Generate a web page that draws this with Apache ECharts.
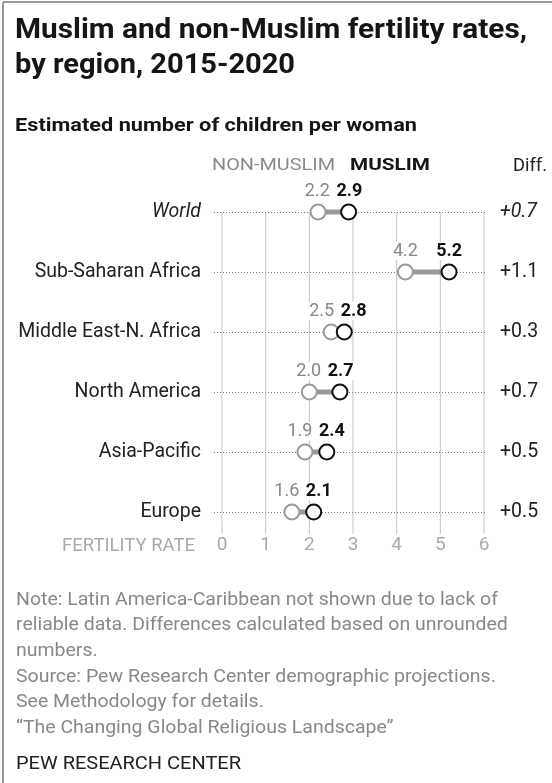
<!DOCTYPE html>
<html>
<head>
<meta charset="utf-8" />
<title>Muslim and non-Muslim fertility rates</title>
<script src="https://cdn.jsdelivr.net/npm/echarts@6/dist/echarts.min.js"></script>
<style>
	html, body { margin: 0; padding: 0; background: #fff; }
	#chart { width: 552px; height: 783px; }
</style>
</head>
<body>
<div id="chart"></div>
<script>
	var regions = ['World', 'Sub-Saharan Africa', 'Middle East-N. Africa', 'North America', 'Asia-Pacific', 'Europe'];
	var nonMuslim = [2.2, 4.2, 2.5, 2.0, 1.9, 1.6];
	var muslim = [2.9, 5.2, 2.8, 2.7, 2.4, 2.1];
	var diffs = ['+0.7', '+1.1', '+0.3', '+0.7', '+0.5', '+0.5'];
	var ticks = [0, 1, 2, 3, 4, 5, 6];
	var notes = [
		'Note: Latin America-Caribbean not shown due to lack of',
		'reliable data. Differences calculated based on unrounded',
		'numbers.',
		'Source: Pew Research Center demographic projections.',
		'See Methodology for details.',
		'\u201cThe Changing Global Religious Landscape\u201d'
	];

	var FONT = 'Roboto, "Liberation Sans", sans-serif';

	var ctx = document.createElement('canvas').getContext('2d');
	function measure(text, font) {
		ctx.font = font;
		return ctx.measureText(text).width;
	}
	// text squeezed/stretched sideways to the width it has in the original
	function fitText(text, x, y, font, width, fill, align) {
		var s = width / measure(text, font);
		return {
			type: 'text', x: x, y: y, scaleX: s,
			style: { text: text, x: 0, y: 0, font: font, fill: fill, align: align || 'left', verticalAlign: 'middle' }
		};
	}

	var chart = echarts.init(document.getElementById('chart'), null, { renderer: 'canvas' });

	var titleFont = 'bold 28px ' + FONT;
	var noteFont = '19px ' + FONT;
	var noteScale = 482 / measure(notes[0], noteFont);

	var graphics = [
		{ type: 'line', shape: { x1: 3, y1: 2, x2: 3, y2: 783 }, style: { stroke: '#777', lineWidth: 1.5 } },
		{ type: 'line', shape: { x1: 3, y1: 2, x2: 552, y2: 2 }, style: { stroke: '#777', lineWidth: 1.5 } },
		fitText('Muslim and non-Muslim fertility rates,', 15, 31, titleFont, 512, '#151515'),
		fitText('by region, 2015-2020', 15, 66, titleFont, 280, '#151515'),
		fitText('Estimated number of children per woman', 15, 126, 'bold 19px ' + FONT, 402, '#151515'),
		fitText('NON-MUSLIM', 212, 166, '17px ' + FONT, 123, '#8a8a8a'),
		fitText('MUSLIM', 350, 166, 'bold 17px ' + FONT, 80, '#151515'),
		fitText('Diff.', 513, 166, '18px ' + FONT, 34, '#222'),
		fitText('FERTILITY RATE', 62, 546, '18px ' + FONT, 133, '#aaa'),
		fitText('PEW RESEARCH CENTER', 16, 764, '19px ' + FONT, 225, '#222')
	];
	notes.forEach(function (line, i) {
		graphics.push({
			type: 'text', x: 16, y: 600 + i * 25.6, scaleX: noteScale,
			style: { text: line, x: 0, y: 0, verticalAlign: 'middle', font: noteFont, fill: '#888' }
		});
	});

	var option = {
		animation: false,
		textStyle: { fontFamily: FONT },
		grid: { left: 222, right: 68, top: 212, bottom: 271, containLabel: false, outerBoundsMode: 'none' },
		xAxis: {
			type: 'value',
			min: 0,
			max: 6,
			interval: 1,
			axisLine: { show: false },
			axisTick: { show: false },
			splitLine: { show: false },
			axisLabel: { color: '#aaa', fontSize: 19, margin: 24 }
		},
		yAxis: [
			{
				type: 'category',
				data: regions,
				inverse: true,
				boundaryGap: false,
				axisLine: { show: false },
				axisTick: { show: false },
				axisLabel: {
					color: '#222',
					fontSize: 19.5,
					margin: 21,
					formatter: function (v) { return v === 'World' ? '{i|' + v + '}' : v; },
					rich: { i: { fontStyle: 'italic', fontSize: 19.5, color: '#222' } }
				}
			},
			{
				type: 'category',
				position: 'right',
				data: diffs,
				inverse: true,
				boundaryGap: false,
				axisLine: { show: false },
				axisTick: { show: false },
				axisLabel: {
					color: '#222',
					fontSize: 19.5,
					margin: 16,
					align: 'left',
					formatter: function (v, idx) { return idx === 0 ? '{i|' + v + '}' : v; },
					rich: { i: { fontStyle: 'italic', fontSize: 19.5, color: '#222' } }
				}
			}
		],
		graphic: graphics,
		series: [
			{
				// vertical gridlines, from the World row down past Europe
				type: 'custom',
				z: 1,
				silent: true,
				data: ticks.map(function (t) { return [t, 0]; }),
				encode: { x: 0, y: 1 },
				renderItem: function (params, api) {
					var top = api.coord([api.value(0), 0]);
					var bot = api.coord([api.value(0), regions.length - 1]);
					return {
						type: 'line',
						shape: { x1: top[0], y1: top[1], x2: bot[0], y2: bot[1] + 22 },
						style: { stroke: '#c4c4c4', lineWidth: 1 }
					};
				}
			},
			{
				// dotted leader per row
				type: 'custom',
				z: 2,
				silent: true,
				data: regions.map(function (r, i) { return [6, i]; }),
				encode: { x: 0, y: 1 },
				renderItem: function (params, api) {
					var a = api.coord([0, api.value(1)]);
					var b = api.coord([api.value(0), api.value(1)]);
					return {
						type: 'line',
						shape: { x1: a[0] - 8, y1: a[1] + 0.5, x2: b[0] + 2, y2: b[1] + 0.5 },
						style: { stroke: '#777', lineWidth: 1, lineDash: [1, 2] }
					};
				}
			},
			{
				// dumbbells
				type: 'custom',
				z: 3,
				data: regions.map(function (r, i) { return [nonMuslim[i], i, muslim[i]]; }),
				encode: { x: [0, 2], y: 1 },
				renderItem: function (params, api) {
					var p1 = api.coord([api.value(0), api.value(1)]);
					var p2 = api.coord([api.value(2), api.value(1)]);
					var w = 26, minGap = 6;
					var c1 = p1[0], c2 = p2[0];
					var gap = (c2 - w / 2) - (c1 + w / 2);
					if (gap < minGap) {
						var s = (minGap - gap) / 2;
						c1 -= s;
						c2 += s;
					}
					var ly = p1[1] - 21;
					return {
						type: 'group',
						children: [
							{ type: 'line', shape: { x1: p1[0], y1: p1[1], x2: p2[0], y2: p2[1] }, style: { stroke: '#999', lineWidth: 5 } },
							{ type: 'circle', shape: { cx: p1[0], cy: p1[1], r: 7.5 }, style: { fill: '#fff', stroke: '#9a9a9a', lineWidth: 2 } },
							{ type: 'circle', shape: { cx: p2[0], cy: p2[1], r: 7.5 }, style: { fill: '#fff', stroke: '#111', lineWidth: 2 } },
							{ type: 'text', style: { text: api.value(0).toFixed(1), x: c1, y: ly, align: 'center', verticalAlign: 'middle', font: '18px ' + FONT, fill: '#888', backgroundColor: '#fff', padding: [0, 1] } },
							{ type: 'text', style: { text: api.value(2).toFixed(1), x: c2, y: ly, align: 'center', verticalAlign: 'middle', font: 'bold 18px ' + FONT, fill: '#111', backgroundColor: '#fff', padding: [0, 1] } }
						]
					};
				}
			}
		]
	};
	chart.setOption(option);
</script>
</body>
</html>
